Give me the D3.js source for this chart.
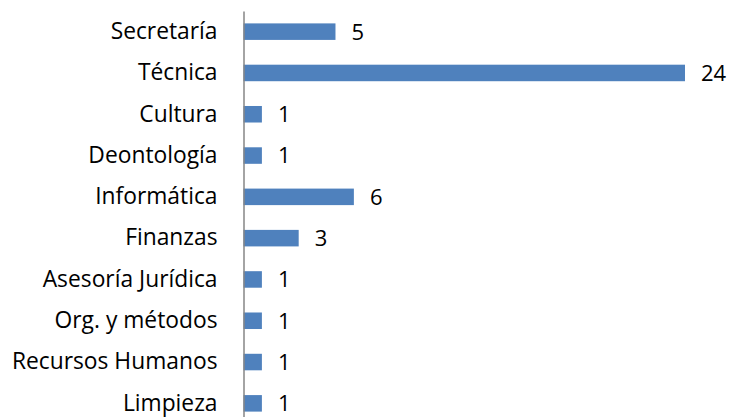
<!DOCTYPE html>
<html>
  <head>
    <meta charset="UTF-8">
    <title>Bar Chart</title>
    <style>
      * { margin: 0; padding: 0; overflow: hidden; }
      body { background: #fff; }
    </style>
    <script src="https://d3js.org/d3.v7.min.js"></script>
  </head>
  <body>
    <script type="text/javascript">
      // data
      const categories = ["Secretaría", "Técnica", "Cultura", "Deontología", "Informática",
        "Finanzas", "Asesoría Jurídica", "Org. y métodos", "Recursos Humanos", "Limpieza"];
      const values = [5, 24, 1, 1, 6, 3, 1, 1, 1, 1];

      const WIDTH = 731;
      const HEIGHT = 417;
      const X0 = 243.5;
      const FONT = "Open Sans, Liberation Sans, sans-serif";

      const svg = d3.select("body")
        .append("svg")
        .attr("width", WIDTH)
        .attr("height", HEIGHT);

      const x = d3.scaleLinear()
        .domain([0, 24])
        .range([X0, 685]);

      const y = d3.scaleBand()
        .domain(categories)
        .range([11, 424])
        .paddingInner(0.6)
        .paddingOuter(0.3);

      const rows = svg.selectAll(".row")
        .data(categories.map((c, i) => ({ name: c, value: values[i] })))
        .enter()
        .append("g")
        .attr("class", "row");

      rows.append("rect")
        .attr("x", x(0))
        .attr("y", (d) => y(d.name))
        .attr("width", (d) => x(d.value) - x(0))
        .attr("height", y.bandwidth())
        .attr("fill", "#4f81bd");

      rows.append("text")
        .attr("x", (d) => x(d.value) + 16)
        .attr("y", (d) => y(d.name) + y.bandwidth() / 2)
        .attr("dy", "0.36em")
        .attr("font-family", FONT)
        .attr("font-size", "22px")
        .attr("fill", "#000")
        .text((d) => d.value);

      // category axis
      const axis = svg.append("g")
        .attr("transform", `translate(${X0},0)`)
        .call(d3.axisLeft(y).tickSize(0).tickPadding(26));

      axis.select(".domain")
        .attr("stroke", "#868686")
        .attr("stroke-width", 1.5);

      axis.selectAll("text")
        .attr("font-family", FONT)
        .attr("font-size", "22.8px")
        .attr("fill", "#000");
    </script>
  </body>
</html>
